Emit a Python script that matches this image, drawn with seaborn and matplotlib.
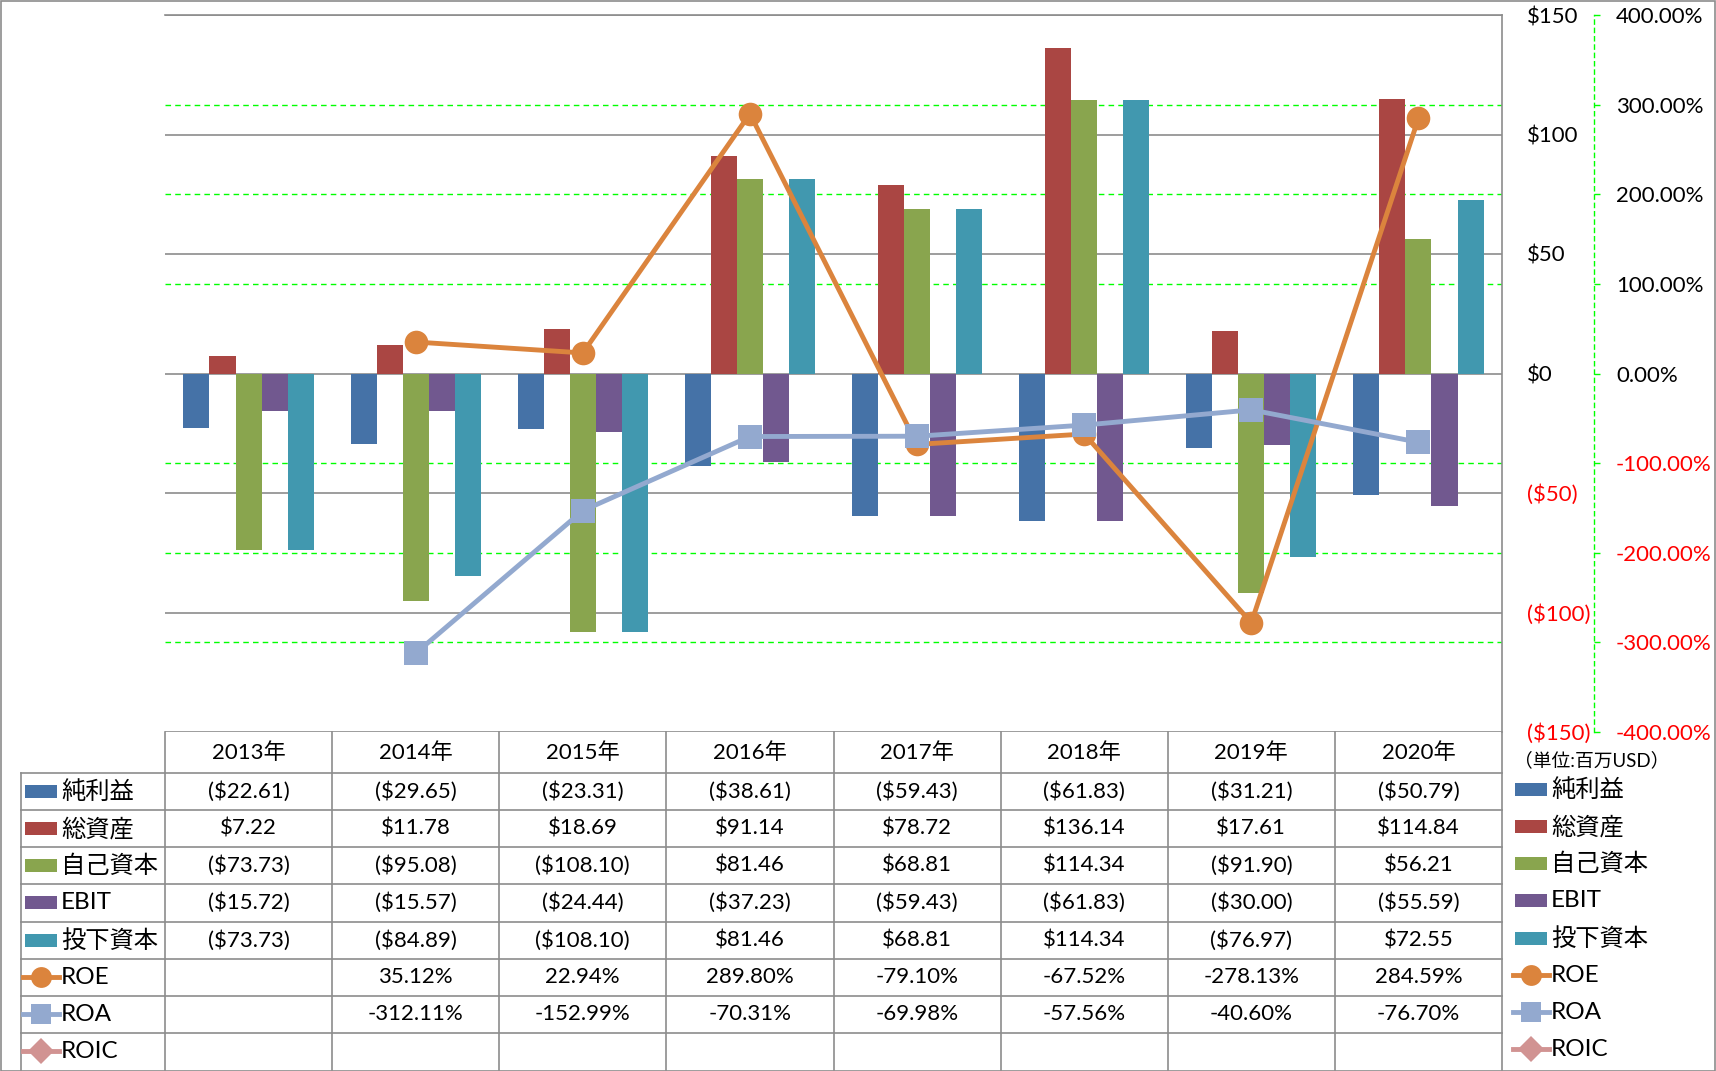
import numpy as np
import pandas as pd
import matplotlib
matplotlib.use("Agg")
import matplotlib.pyplot as plt
import seaborn as sns
from matplotlib.lines import Line2D
from matplotlib.patches import Rectangle
from matplotlib.ticker import FixedLocator, FuncFormatter

plt.rcParams["font.family"] = ["Lato", "Noto Sans CJK JP", "DejaVu Sans"]

# ---------------- data ----------------
years = ["2013年", "2014年", "2015年", "2016年", "2017年", "2018年", "2019年", "2020年"]
bar_series = ["純利益", "総資産", "自己資本", "EBIT", "投下資本"]
net_income = [-22.61, -29.65, -23.31, -38.61, -59.43, -61.83, -31.21, -50.79]
total_assets = [7.22, 11.78, 18.69, 91.14, 78.72, 136.14, 17.61, 114.84]
equity = [-73.73, -95.08, -108.10, 81.46, 68.81, 114.34, -91.90, 56.21]
ebit = [-15.72, -15.57, -24.44, -37.23, -59.43, -61.83, -30.00, -55.59]
invested = [-73.73, -84.89, -108.10, 81.46, 68.81, 114.34, -76.97, 72.55]

line_series = ["ROE", "ROA", "ROIC"]
roe = [np.nan, 35.12, 22.94, 289.80, -79.10, -67.52, -278.13, 284.59]
roa = [np.nan, -312.11, -152.99, -70.31, -69.98, -57.56, -40.60, -76.70]
roic = [np.nan] * 8

usd_ticks = [-150, -100, -50, 0, 50, 100, 150]
pct_ticks = [-400, -300, -200, -100, 0, 100, 200, 300, 400]
unit_note = "（単位:百万USD）"

bar_colors = ["#4572A7", "#AA4643", "#89A54E", "#71588F", "#4198AF"]
line_colors = ["#DB843D", "#93A9CF", "#D19392"]
line_markers = ["o", "s", "D"]

bar_values = [net_income, total_assets, equity, ebit, invested]
line_values = [roe, roa, roic]

df_bars = pd.DataFrame({
    "year": np.tile(years, len(bar_series)),
    "series": np.repeat(bar_series, len(years)),
    "value": np.concatenate(bar_values),
})
df_lines = pd.DataFrame({
    "pos": np.tile(np.arange(len(years)), len(line_series)),
    "series": np.repeat(line_series, len(years)),
    "value": np.concatenate(line_values),
}).dropna()

# ---------------- layout (pixels) ----------------
W, H = 1716, 1071
X0, X1 = 165, 1502
Y0, Y1 = 15, 732
HDR_B = 773
ROW_H = (1070 - HDR_B) / 8
LEFT_T = 21
GRAY = "#8C8C8C"
GREEN = "#00FF00"
FS = 16
FS_LAB = 17.5
PX = 72 / 100  # points per pixel


def fx(p):
    return p / W


def fy(p):
    return 1 - p / H


fig = plt.figure(figsize=(W / 100, H / 100), dpi=100)
fig.patch.set_facecolor("white")
fig.add_artist(Rectangle((0.5 / W, 0.5 / H), (W - 1.5) / W, (H - 1.5) / H,
                         transform=fig.transFigure, fill=False, edgecolor=GRAY, lw=1.2))

ax = fig.add_axes([fx(X0), fy(Y1), (X1 - X0) / W, (Y1 - Y0) / H])
ax.set_facecolor("none")

sns.barplot(data=df_bars, x="year", y="value", hue="series", order=years,
            hue_order=bar_series, palette=bar_colors, width=0.78, gap=0,
            saturation=1, errorbar=None, legend=False, linewidth=0, ax=ax, zorder=3)

ax2 = ax.twinx()
ax2.set_facecolor("none")

ax.set_xlim(-0.5, len(years) - 0.5)
ax.set_ylim(-150, 150)
ax.set_xticks([])
ax.set_xlabel("")
ax.set_ylabel("")
ax.yaxis.set_major_locator(FixedLocator(usd_ticks))
ax.yaxis.set_major_formatter(FuncFormatter(lambda v, p: f"(${abs(v):.0f})" if v < 0 else f"${v:.0f}"))
ax.yaxis.tick_right()
ax.tick_params(axis="y", left=False, labelleft=False, right=True, labelright=True,
               length=0, pad=25 * PX, labelsize=FS)
for s in ["left", "bottom"]:
    ax.spines[s].set_visible(False)
for s in ["top", "right"]:
    ax.spines[s].set_color(GRAY)
    ax.spines[s].set_linewidth(1.2)
for v in usd_ticks:
    ax.axhline(v, color=GRAY, lw=1.2, zorder=1)
for p in pct_ticks:
    if p not in (-400, 0, 400):
        ax.axhline(p / 400 * 150, color=GREEN, lw=1, ls=(0, (4, 3)), zorder=2)

sns.lineplot(data=df_lines, x="pos", y="value", hue="series", style="series",
             hue_order=line_series[:2], style_order=line_series[:2],
             palette=line_colors[:2], markers=line_markers[:2], dashes=False,
             linewidth=3.5, markersize=17, markeredgewidth=0, legend=False,
             sort=False, ax=ax2, zorder=5)
ax2.set_xlim(-0.5, len(years) - 0.5)
ax2.set_ylim(-400, 400)
ax2.set_xlabel("")
ax2.set_ylabel("")
ax2.yaxis.set_major_locator(FixedLocator(pct_ticks))
ax2.yaxis.set_major_formatter(FuncFormatter(lambda v, p: f"{v:.2f}%"))
ax2.spines["right"].set_position(("outward", 92 * PX))
ax2.spines["right"].set_color(GREEN)
ax2.spines["right"].set_linestyle((0, (3, 3)))
ax2.spines["right"].set_linewidth(1)
for s in ["left", "top", "bottom"]:
    ax2.spines[s].set_visible(False)
ax2.tick_params(axis="y", length=6 * PX, width=1, color=GREEN, pad=16 * PX, labelsize=FS)

fig.canvas.draw()
for axis_obj, ticks in ((ax, usd_ticks), (ax2, pct_ticks)):
    for v, tick in zip(ticks, axis_obj.yaxis.get_major_ticks()):
        c = "#FF0000" if v < 0 else "black"
        tick.label1.set_color(c)
        tick.label2.set_color(c)

# ---------------- data table ----------------
def fig_line(xa, ya, xb, yb):
    fig.add_artist(Line2D([fx(xa), fx(xb)], [fy(ya), fy(yb)], transform=fig.transFigure,
                          color=GRAY, lw=1.2))


CW = (X1 - X0) / len(years)
for i in range(len(years) + 1):
    fig_line(X0 + i * CW, Y1, X0 + i * CW, 1070)
fig_line(LEFT_T, HDR_B, LEFT_T, 1070)
for k in range(1, 9):
    fig_line(LEFT_T, HDR_B + (k - 1) * ROW_H, X1, HDR_B + (k - 1) * ROW_H)

for i, yr in enumerate(years):
    fig.text(fx(X0 + (i + 0.5) * CW), fy((Y1 + HDR_B) / 2), yr, ha="center", va="center", fontsize=FS)


def fmt_usd(v):
    return f"(${abs(v):.2f})" if v < 0 else f"${v:.2f}"


def fmt_pct(v):
    return "" if np.isnan(v) else f"{v:.2f}%"


def draw_glyph(xa, yc, kind, color, marker=None):
    if kind == "bar":
        fig.add_artist(Rectangle((fx(xa), fy(yc + 6.5)), 32 / W, 13 / H, transform=fig.transFigure,
                                 facecolor=color, edgecolor="none"))
    else:
        fig.add_artist(Line2D([fx(xa - 2), fx(xa + 34)], [fy(yc), fy(yc)], transform=fig.transFigure,
                              color=color, lw=3.5))
        fig.add_artist(Line2D([fx(xa + 16)], [fy(yc)], transform=fig.transFigure, color=color,
                              marker=marker, markersize=15 if marker != "D" else 13,
                              markeredgewidth=0, ls="none"))


rows = [(n, "bar", c, None, vals, fmt_usd) for n, c, vals in zip(bar_series, bar_colors, bar_values)]
rows += [(n, "line", c, m, vals, fmt_pct) for n, c, m, vals in zip(line_series, line_colors, line_markers, line_values)]

for k, (name, kind, color, marker, vals, fmt) in enumerate(rows):
    yc = HDR_B + (k + 0.5) * ROW_H
    draw_glyph(25, yc, kind, color, marker)
    fig.text(fx(61), fy(yc), name, ha="left", va="center", fontsize=FS_LAB)
    for i, v in enumerate(vals):
        fig.text(fx(X0 + (i + 0.5) * CW), fy(yc), fmt(v), ha="center", va="center", fontsize=FS)
    # right-side legend
    draw_glyph(1515, yc - 2, kind, color, marker)
    fig.text(fx(1551), fy(yc - 2), name, ha="left", va="center", fontsize=FS_LAB)

fig.text(fx(1514), fy(760), unit_note, ha="left", va="center", fontsize=13.5)

fig.savefig("out.png", dpi=100, facecolor="white")
